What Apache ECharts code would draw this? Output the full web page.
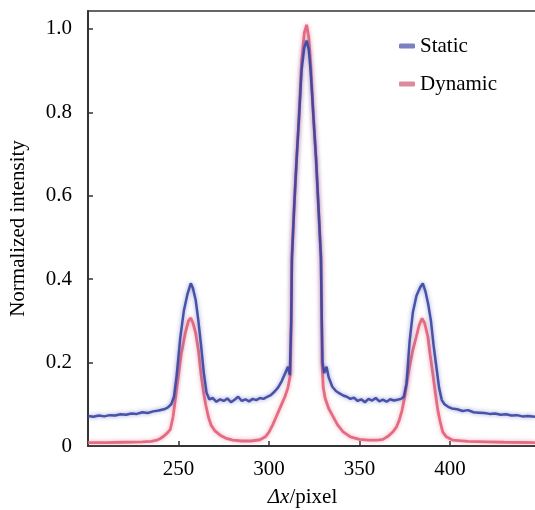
<!DOCTYPE html>
<html>
<head>
<meta charset="utf-8">
<script src="https://cdn.jsdelivr.net/npm/echarts@6/dist/echarts.min.js"></script>
<style>html,body{margin:0;padding:0;background:#fff;}#c{width:535px;height:510px;}</style>
</head>
<body>
<div id="c"></div>
<script>
var seriesNames = ['Static', 'Dynamic'];
var xTicks = [250, 300, 350, 400];
var yTicks = [0, 0.2, 0.4, 0.6, 0.8, 1.0];

var staticX = [200,203,206,209,212,215,218,221,224,227,230,233,236,239,242,244,246,247.5,249,251,253,255,256.8,258,259.5,261,262.5,264,265.5,267,269,271,273,275,277,279,281,283,285,287,289,291,293,295,297,299,301,303,305,307,309,310.5,311.5,312.3,312.7,314,315.3,316.5,318,319.5,320.8,322,323,324.7,326,327.5,328.7,329.2,329.6,330.5,331.8,333,335,337,339,341,343,345,347,349,351,353,355,357,359,361,363,365,367,369,371,373,374.5,376,377.7,379.5,381.5,383.5,385,386.5,388,389.5,391,392.5,394,395.5,397,399,401,404,407,410,413,416,419,422,425,428,431,434,437,440,443,447];
var staticY = [0.072,0.070,0.073,0.071,0.074,0.073,0.076,0.075,0.078,0.077,0.081,0.079,0.083,0.085,0.088,0.092,0.100,0.118,0.17,0.26,0.325,0.365,0.39,0.378,0.35,0.30,0.24,0.175,0.128,0.112,0.115,0.106,0.112,0.108,0.114,0.105,0.111,0.118,0.108,0.112,0.107,0.113,0.110,0.115,0.113,0.118,0.122,0.130,0.140,0.155,0.175,0.19,0.17,0.30,0.45,0.58,0.69,0.78,0.90,0.955,0.972,0.95,0.90,0.78,0.69,0.56,0.45,0.30,0.20,0.175,0.19,0.165,0.142,0.132,0.126,0.121,0.118,0.113,0.116,0.108,0.112,0.105,0.113,0.109,0.115,0.107,0.111,0.106,0.112,0.109,0.111,0.113,0.118,0.15,0.25,0.32,0.36,0.38,0.39,0.37,0.34,0.30,0.24,0.19,0.14,0.11,0.100,0.094,0.090,0.088,0.084,0.086,0.081,0.080,0.079,0.077,0.078,0.075,0.076,0.073,0.074,0.071,0.072,0.070];

var dynamicX = [200,210,220,230,235,238,240,242,244,245.5,247,248.2,250,251.5,253.7,255.5,256.8,258,259.5,261,262.5,264,265,266.5,268,270,273,276,280,285,290,295,298,300,302,304,306.5,308.8,310.5,311.8,312.3,312.6,314,315.3,316.5,318,319.5,320.8,322,323,324.7,326,327.5,328.8,329.1,329.3,330,331,333,335.5,338,341,345,350,355,360,363,366,368.5,370.5,372,373.5,375,376.5,377.7,379.5,381.4,383,384.6,386,387.8,389,390.5,392,393.3,394.5,396,398,401.6,410,420,430,447];
var dynamicY = [0.008,0.008,0.009,0.010,0.011,0.014,0.018,0.024,0.032,0.040,0.070,0.11,0.17,0.22,0.27,0.30,0.307,0.295,0.27,0.23,0.17,0.125,0.10,0.07,0.05,0.037,0.026,0.019,0.014,0.012,0.012,0.015,0.022,0.033,0.05,0.07,0.095,0.118,0.14,0.17,0.30,0.45,0.58,0.69,0.78,0.92,0.99,1.01,0.98,0.92,0.78,0.69,0.56,0.45,0.30,0.20,0.14,0.115,0.09,0.07,0.05,0.034,0.022,0.016,0.014,0.014,0.016,0.024,0.034,0.046,0.062,0.085,0.118,0.16,0.19,0.23,0.262,0.29,0.306,0.295,0.262,0.22,0.174,0.125,0.086,0.06,0.034,0.022,0.014,0.011,0.010,0.009,0.008];

function pairs(xs, ys){ return xs.map(function(x,i){ return [x, ys[i]]; }); }

var FONT = '"Liberation Serif","Times New Roman",serif';
var FS = 21;
var chart = echarts.init(document.getElementById('c'));
chart.setOption({
  animation: false,
  backgroundColor: '#fff',
  grid: {left: 88, right: 0, top: 11, bottom: 64, containLabel: false, outerBoundsMode: 'none'},
  legend: {
    orient: 'vertical', left: 394, top: 30, itemGap: 16,
    itemWidth: 16, itemHeight: 5, icon: 'roundRect',
    textStyle: {fontFamily: FONT, fontSize: FS, color: '#000', lineHeight: 22},
    data: [
      {name: seriesNames[0], itemStyle: {color: '#7a80c2'}},
      {name: seriesNames[1], itemStyle: {color: '#db8c9c'}}
    ]
  },
  xAxis: [{
    type: 'value', min: 200, max: 447, interval: 50,
    name: '{i|Δx}/pixel', nameLocation: 'middle', nameGap: 41,
    nameTextStyle: {fontFamily: FONT, fontSize: FS, color: '#000', padding: [0, 18, 0, 0],
      rich: {i: {fontFamily: FONT, fontSize: FS, fontStyle: 'italic', color: '#000'}}},
    axisLine: {show: true, lineStyle: {color: '#333', width: 2}},
    axisTick: {show: true, inside: true, length: 5, lineStyle: {color: '#333', width: 1.5}},
    axisLabel: {fontFamily: FONT, fontSize: FS, color: '#000', margin: 13, showMinLabel: false, showMaxLabel: false,
      formatter: function(v){ return xTicks.indexOf(v) >= 0 ? String(v) : ''; }},
    splitLine: {show: false}
  }, {
    type: 'value', position: 'top', min: 200, max: 447,
    axisLine: {show: true, lineStyle: {color: '#333', width: 1.5}},
    axisTick: {show: false}, axisLabel: {show: false}, splitLine: {show: false}
  }],
  yAxis: {
    type: 'value', min: 0, max: 1.043, interval: 0.2,
    name: 'Normalized intensity', nameLocation: 'middle', nameGap: 59,
    nameTextStyle: {fontFamily: FONT, fontSize: FS, color: '#000'},
    axisLine: {show: true, lineStyle: {color: '#333', width: 2}},
    axisTick: {show: true, inside: true, length: 5, lineStyle: {color: '#333', width: 1.5}},
    axisLabel: {fontFamily: FONT, fontSize: FS, color: '#000', margin: 16, showMaxLabel: false,
      formatter: function(v){
        for (var i = 0; i < yTicks.length; i++) { if (Math.abs(yTicks[i]-v) < 1e-6) return v === 0 ? '0' : v.toFixed(1); }
        return '';
      }},
    splitLine: {show: false}
  },
  series: [{
    name: seriesNames[1], type: 'line', showSymbol: false, z: 2,
    data: pairs(dynamicX, dynamicY),
    lineStyle: {color: '#e0607a', width: 2.8, opacity: 0.9, shadowBlur: 4, shadowColor: 'rgba(235,120,140,0.7)'},
    itemStyle: {color: '#e0607a'}
  }, {
    name: seriesNames[0], type: 'line', showSymbol: false, z: 3,
    data: pairs(staticX, staticY),
    lineStyle: {color: '#38449e', width: 2.5, opacity: 0.9, shadowBlur: 4, shadowColor: 'rgba(90,100,190,0.7)'},
    itemStyle: {color: '#38449e'}
  }]
});
</script>
</body>
</html>
